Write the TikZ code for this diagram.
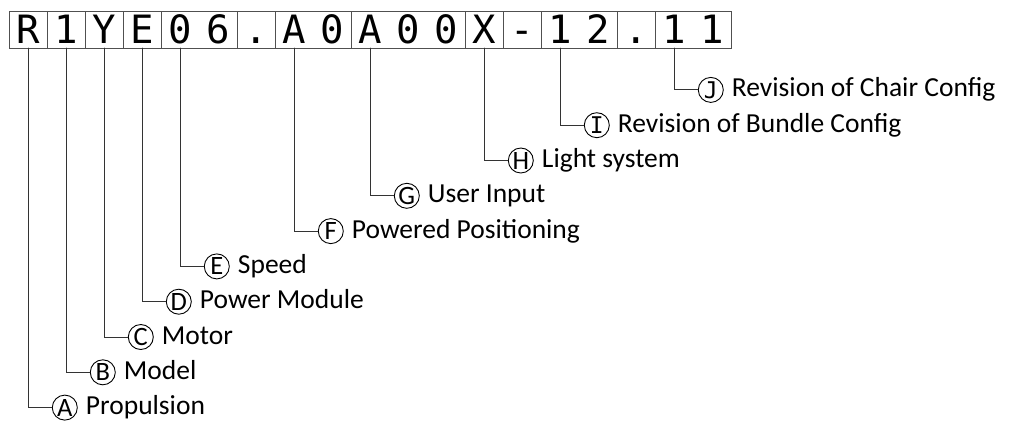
\documentclass[tikz,border=0pt]{standalone}
\usepackage{fontspec}
\setmainfont{Carlito}
\newfontfamily\codefont{DejaVu Sans Mono}
\usetikzlibrary{positioning}
\definecolor{wiregray}{HTML}{505050}

\begin{document}
\begin{tikzpicture}[x=1pt, y=-1pt, line cap=round,
    cell/.style={inner sep=0, minimum width=38pt, minimum height=36pt, text height=29pt, text depth=3pt, font=\codefont\fontsize{39}{39}\selectfont},
    cellbox/.style={draw=wiregray, line width=1pt},
    wire/.style={draw=black!80, line width=1pt},
    tag/.style={circle, draw=black, line width=0.9pt, inner sep=0, minimum size=25pt, text height=17pt, text depth=0pt, font=\fontsize{26.5}{26.5}\selectfont},
    tagmono/.style={tag, font=\codefont\fontsize{23}{23}\selectfont},
    txt/.style={inner sep=0, font=\fontsize{27.5}{27.5}\selectfont}]
  \useasboundingbox (0,0) rectangle (1011,421);
  % the code, one cell per character
  \foreach \c [count=\k from 0] in {R,1,Y,E,0,6,.,A,0,A,0,0,X,-,1,2,.,1,1}
    \node[cell] (c\k) at ({28.3+38*\k},30) {\c};
  % outlines of the fields
  \foreach \a/\b in {0/0,1/1,2/2,3/3,4/5,6/6,7/8,9/11,12/12,13/13,14/15,16/16,17/18}
    \draw[cellbox] (c\a.north west) rectangle (c\b.south east);
  % legend
  \foreach \l/\k/\t/\s [count=\r from 0] in {A/0/Propulsion/tag, B/1/Model/tag, C/2/Motor/tag,
      D/3/Power Module/tag, E/4/Speed/tag, F/7/Powered Positioning/tag, G/9/User Input/tag,
      H/12/Light system/tag, I/14/Revision of Bundle Config/tagmono, J/17/Revision of Chair Config/tagmono}
  {
    \node[\s] (m\l) at ({64.8+38*\k},{407.6-35.3*\r}) {\l};
    \node[txt, anchor=base west] (t\l) at ([xshift=8pt, yshift=-7pt]m\l.east) {\t};
    \draw[wire] (c\k.south) |- (m\l.west);
  }
\end{tikzpicture}
\end{document}
